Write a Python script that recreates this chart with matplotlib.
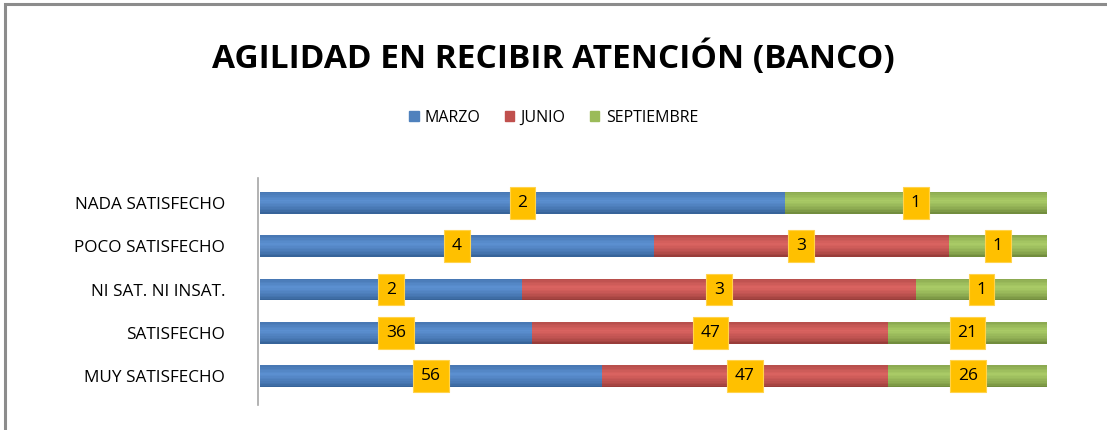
import matplotlib
matplotlib.use("Agg")
import matplotlib.pyplot as plt
from matplotlib.patches import Rectangle
from matplotlib.lines import Line2D
from matplotlib.colors import to_rgb
import numpy as np

categories = ["MUY SATISFECHO", "SATISFECHO", "NI SAT. NI INSAT.", "POCO SATISFECHO", "NADA SATISFECHO"]
series_names = ["MARZO", "JUNIO", "SEPTIEMBRE"]
marzo = [56, 36, 2, 4, 2]
junio = [47, 47, 3, 3, 0]
septiembre = [26, 21, 1, 1, 1]
colors = ["#4F81BD", "#C0504D", "#9BBB59"]
dark = ["#2F5A8E", "#8A3432", "#667F35"]
light = ["#5B8FD0", "#DA6360", "#A9CB66"]

font = "Open Sans"
fig = plt.figure(figsize=(11.07, 4.3), dpi=100)
fig.patches.append(Rectangle((5/1107, -0.01), 1.02, (430-4)/430 + 0.01, transform=fig.transFigure,
                             fill=False, edgecolor="#8C8C8C", linewidth=2.2))

ax = fig.add_axes([260/1107, (430-398)/430, (1047-260)/1107, 217/430])
data = np.array([marzo, junio, septiembre], dtype=float)
totals = data.sum(axis=0)
frac = data / totals
y = np.arange(len(categories))
h = 0.5
nslice = 14
t = (np.arange(nslice) + 0.5) / nslice
prof = np.clip(1 - np.abs(t - 0.6) / 0.6, 0, 1) ** 0.6
left = np.zeros(len(categories))
for i in range(3):
    w = frac[i]
    d = np.array(to_rgb(dark[i])); l = np.array(to_rgb(light[i]))
    for k in range(nslice):
        c = d + (l - d) * prof[k]
        ax.barh(y - h/2 + h*(k + 0.5)/nslice, w, left=left, height=h/nslice*1.02, color=c,
                edgecolor="none", zorder=2)
    for j in range(len(categories)):
        if data[i, j] > 0:
            ax.text(left[j] + w[j]/2, y[j], f"{int(data[i, j])}", ha="center", va="center",
                    fontsize=12.5, family=font, color="black", zorder=5,
                    bbox=dict(boxstyle="square,pad=0.45", facecolor="#FFC000", edgecolor="#FFD34D", linewidth=0.8))
    left = left + w

ax.set_xlim(0, 1)
ax.set_ylim(-0.5, 4.5)
ax.set_yticks(y)
ax.set_yticklabels(categories, family=font, fontsize=12.3)
ax.tick_params(axis="y", length=0, pad=25)
ax.set_xticks([])
for s in ax.spines.values():
    s.set_visible(False)

fig.add_artist(Line2D([258/1107, 258/1107], [(430-405)/430, (430-178)/430], transform=fig.transFigure,
                      color="#A6A6A6", linewidth=1.2))

fig.text(0.5, (430-58)/430, "AGILIDAD EN RECIBIR ATENCIÓN (BANCO)", ha="center", va="center",
         fontsize=24, fontweight="bold", family=font)

handles = [Rectangle((0, 0), 1, 1, color=c) for c in colors]
fig.legend(handles, series_names, loc="center", bbox_to_anchor=(0.5, (430-118)/430), ncol=3, frameon=False,
           prop={"family": font, "size": 11.5}, handlelength=0.6, handleheight=0.6, handletextpad=0.4, columnspacing=1.5)

fig.savefig("out.png", dpi=100)
